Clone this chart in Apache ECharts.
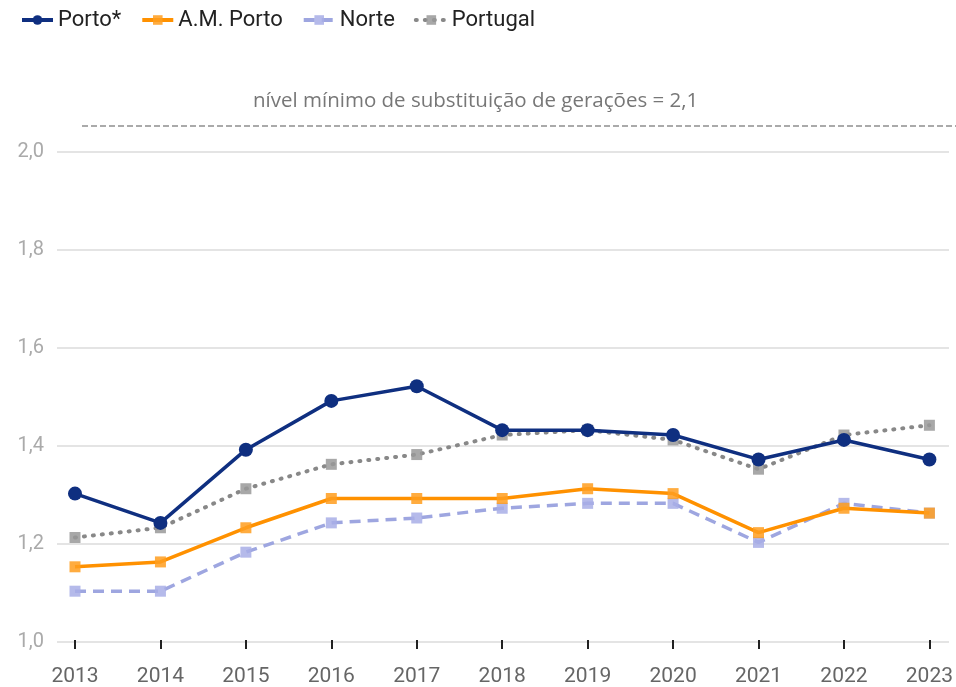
<!DOCTYPE html>
<html>
<head>
<meta charset="utf-8">
<script src="https://cdn.jsdelivr.net/npm/echarts@6/dist/echarts.min.js"></script>
<style>
  html, body { margin: 0; padding: 0; background: #fff; }
  #chart { width: 956px; height: 687px; }
</style>
</head>
<body>
<div id="chart"></div>
<script>
  const years = ['2013', '2014', '2015', '2016', '2017', '2018', '2019', '2020', '2021', '2022', '2023']
  const porto = [1.30, 1.24, 1.39, 1.49, 1.52, 1.43, 1.43, 1.42, 1.37, 1.41, 1.37]
  const amPorto = [1.15, 1.16, 1.23, 1.29, 1.29, 1.29, 1.31, 1.30, 1.22, 1.27, 1.26]
  const norte = [1.10, 1.10, 1.18, 1.24, 1.25, 1.27, 1.28, 1.28, 1.20, 1.28, 1.26]
  const portugal = [1.21, 1.23, 1.31, 1.36, 1.38, 1.42, 1.43, 1.41, 1.35, 1.42, 1.44]
  const yTicks = [1.0, 1.2, 1.4, 1.6, 1.8, 2.0]
  const thresholdText = 'nível mínimo de substituição de gerações = 2,1'

  const font = 'Roboto'
  const chart = echarts.init(document.getElementById('chart'))

  const yBase = {
    type: 'value',
    min: yTicks[0],
    max: yTicks[yTicks.length - 1],
    interval: 0.2
  }

  let option = {
    animation: false,
    textStyle: { fontFamily: font },
    legend: {
      left: 15,
      top: 4,
      itemWidth: 31,
      itemHeight: 12,
      itemGap: 19,
      lineStyle: { width: 4 },
      textStyle: { fontSize: 22, color: '#222', fontFamily: font },
      data: ['Porto*', 'A.M. Porto', 'Norte', 'Portugal']
    },
    // grid 0 carries the y axis and gridlines, grid 1 the plotted lines
    grid: [
      { left: 57, right: 7, top: 152, bottom: 45 },
      { left: 75, right: 26, top: 152, bottom: 45 }
    ],
    xAxis: [
      { type: 'category', gridIndex: 0, data: years, show: false, boundaryGap: false },
      {
        type: 'category',
        gridIndex: 1,
        data: years,
        boundaryGap: false,
        axisLine: { show: false },
        axisTick: { show: true, length: 9, lineStyle: { color: '#222', width: 2 } },
        axisLabel: { fontSize: 21, color: '#666', margin: 26, fontFamily: font }
      }
    ],
    yAxis: [
      Object.assign({}, yBase, {
        gridIndex: 0,
        axisLine: { show: false },
        axisTick: { show: false },
        splitLine: { lineStyle: { color: '#e4e4e4', width: 2 } },
        axisLabel: {
          fontSize: 20,
          color: '#aaa',
          margin: 13,
          fontFamily: font,
          formatter: (v) => v.toFixed(1).replace('.', ',')
        }
      }),
      Object.assign({}, yBase, { gridIndex: 1, show: false, splitLine: { show: false } })
    ],
    graphic: [
      {
        type: 'line',
        shape: { x1: 82, y1: 126, x2: 956, y2: 126 },
        style: { stroke: '#aaa', lineWidth: 2, lineDash: [6, 3] }
      },
      {
        type: 'text',
        left: 253,
        top: 91,
        style: { text: thresholdText, fontSize: 20.5, fill: '#777', fontFamily: 'Open Sans' }
      }
    ],
    series: [
      {
        name: 'Portugal',
        type: 'line',
        xAxisIndex: 1,
        yAxisIndex: 1,
        data: portugal,
        symbol: 'rect',
        symbolSize: 11,
        z: 2,
        lineStyle: { color: '#888', width: 4, type: [1, 8], cap: 'round' },
        itemStyle: { color: '#999', opacity: 0.85 }
      },
      {
        name: 'Norte',
        type: 'line',
        xAxisIndex: 1,
        yAxisIndex: 1,
        data: norte,
        symbol: 'rect',
        symbolSize: 11,
        z: 3,
        lineStyle: { color: '#9ea6e0', width: 3.5, type: [11, 7] },
        itemStyle: { color: '#a8aee6', opacity: 0.85 }
      },
      {
        name: 'A.M. Porto',
        type: 'line',
        xAxisIndex: 1,
        yAxisIndex: 1,
        data: amPorto,
        symbol: 'rect',
        symbolSize: 11,
        z: 4,
        lineStyle: { color: '#ff9100', width: 3.5 },
        itemStyle: { color: '#ff9e1f', opacity: 0.85 }
      },
      {
        name: 'Porto*',
        type: 'line',
        xAxisIndex: 1,
        yAxisIndex: 1,
        data: porto,
        symbol: 'circle',
        symbolSize: 14,
        z: 5,
        lineStyle: { color: '#0f2f80', width: 3.5 },
        itemStyle: { color: '#0f2f80' }
      }
    ]
  }
  chart.setOption(option)
</script>
</body>
</html>
